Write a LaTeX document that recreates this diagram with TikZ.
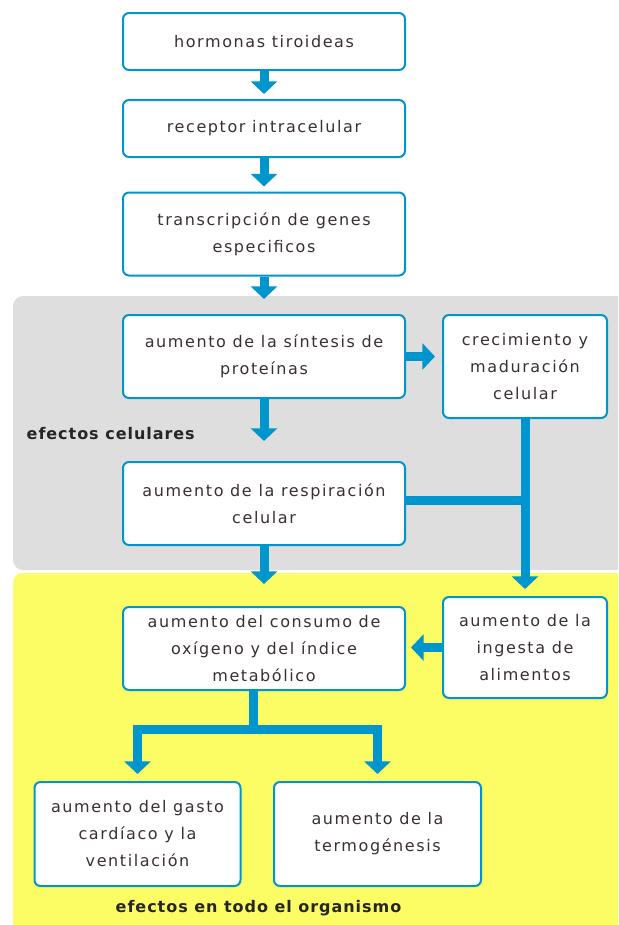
\documentclass[tikz,border=0pt]{standalone}
\usepackage{fontspec}
\setmainfont{DejaVu Sans}[LetterSpace=10,BoldFeatures={LetterSpace=6}]
\usetikzlibrary{arrows.meta}
\definecolor{flowblue}{RGB}{0,150,205}
\definecolor{cellgray}{RGB}{222,222,222}
\definecolor{bodyyellow}{RGB}{252,252,100}
\definecolor{ink}{RGB}{58,48,48}

\begin{document}
\begin{tikzpicture}
      [
        x=0.75pt, y=-0.75pt,
        box/.style={draw=flowblue, line width=1.5pt, fill=white, rounded corners=4.5pt,
          align=center, text=ink, inner sep=0pt, font=\fontsize{12}{20.25}\selectfont},
        flow/.style={flowblue, line width=6.75pt, -{Triangle[width=19.5pt,length=9.5pt]}},
        bar/.style={flowblue, line width=6.75pt},
        tag/.style={text=black!85, font=\fontsize{12}{14}\selectfont\bfseries}
      ]
      \useasboundingbox (0,0) rectangle (618,925);
      \clip (0,0) rectangle (618,925);
      % regions
      \fill[white] (0,0) rectangle (618,925);
      \fill[cellgray, rounded corners=7.5pt] (13,296) rectangle (640,570);
      \fill[bodyyellow, rounded corners=7.5pt] (13,573) rectangle (640,950);
      % boxes
      \node [box, minimum width=211.5pt, minimum height=42.75pt] (hor) at (264,41.5)
        {hormonas tiroideas};
      \node [box, minimum width=211.5pt, minimum height=42.75pt] (rec) at (264,128.5)
        {receptor intracelular};
      \node [box, minimum width=211.5pt, minimum height=62.25pt] (tra) at (264,234)
        {transcripción de genes\\especificos};
      \node [box, minimum width=211.5pt, minimum height=62.25pt] (sin) at (264,356.5)
        {aumento de la síntesis de\\proteínas};
      \node [box, minimum width=123pt, minimum height=77.25pt] (cre) at (525,366.5)
        {crecimiento y\\maduración\\celular};
      \node [box, minimum width=211.5pt, minimum height=62.25pt] (res) at (264,503.5)
        {aumento de la respiración\\celular};
      \node [box, minimum width=211.5pt, minimum height=62.25pt] (con) at (264,648.5)
        {aumento del consumo de\\oxígeno y del índice\\metabólico};
      \node [box, minimum width=123pt, minimum height=75.75pt] (ing) at (525,647.5)
        {aumento de la\\ingesta de\\alimentos};
      \node [box, minimum width=154.5pt, minimum height=78pt] (gas) at (137.5,834)
        {aumento del gasto\\cardíaco y la\\ventilación};
      \node [box, minimum width=155.25pt, minimum height=78pt] (ter) at (377.5,834)
        {aumento de la\\termogénesis};
      % labels
      \node [tag, anchor=west] (cel) at (22,434) {efectos celulares};
      \node [tag] (org) at (258.5,908) {efectos en todo el organismo};
      % arrows
      \draw [flow, shorten >=3.75pt] (hor) -- (rec);
      \draw [flow, shorten >=3.75pt] (rec) -- (tra);
      \draw [flow, shorten >=11.25pt] (tra) -- (sin);
      \draw [flow, shorten >=15pt] (sin) -- (res);
      \draw [flow, shorten >=5.25pt] (sin.east) -- (sin.east -| cre.west);
      \draw [flow, shorten >=5.25pt] (cre) -- (ing);
      \draw [bar] (res.east) ++(0,-3) -- (525,500.5);
      \draw [flow, shorten >=16.5pt] (res) -- (con);
      \draw [flow, shorten >=3.75pt] (ing.west) -- (ing.west -| con.east);
      \coordinate (fork) at (253,729);
      \draw [bar] ([xshift=-8.25pt]con.south) -- (fork);
      \draw [flow, shorten >=5.25pt] (fork) -| (gas);
      \draw [flow, shorten >=5.25pt] (fork) -| (ter);
    \end{tikzpicture}
\end{document}
